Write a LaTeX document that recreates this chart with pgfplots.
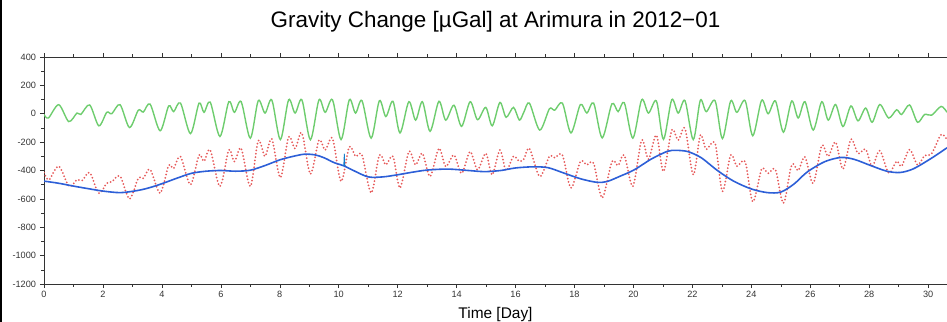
\documentclass[border=0pt]{standalone}
\usepackage{pgfplots}
\pgfplotsset{compat=1.18}
\usepackage{fontspec}
\setmainfont{Liberation Sans}
\usetikzlibrary{calc}
\definecolor{tidegreen}{RGB}{110,205,110}
\definecolor{obsred}{RGB}{230,90,90}
\definecolor{resblue}{RGB}{45,95,215}
\begin{document}
\begin{tikzpicture}
\begin{axis}[
  scale only axis, width=903bp, height=227bp,
  xmin=0, xmax=30.64, ymin=-1200, ymax=400,
  axis x line=box, axis y line=left,
  axis line style={-, line width=0.7bp, black!80},
  xtick={0,2,...,30}, ytick={-1200,-1000,...,400},
  minor x tick num=1, minor y tick num=1,
  tick align=outside,
  major tick length=4bp, minor tick length=2.5bp,
  tick style={line width=0.5bp, black!80},
  /pgf/number format/assume math mode=true,
  /pgf/number format/1000 sep={},
  ticklabel style={font=\fontsize{9.2}{10}\selectfont, text=black!80},
  yticklabel style={xshift=-0.5bp},
  xlabel={Time [Day]},
  xlabel style={at={(0.5,0)}, anchor=base, yshift=-34bp, inner sep=0pt, font=\fontsize{15.5}{17}\selectfont},
  title={Gravity Change [µGal] at Arimura in 2012−01},
  title style={at={(0.5,1)}, anchor=base, yshift=24bp, inner sep=0pt, font=\fontsize{22.5}{25}\selectfont},
  clip=true,
]
% green: theoretical tide
\addplot[tidegreen, line width=1.4bp, smooth] coordinates {
(0.00,-5)(0.15,-30)(0.50,64)(0.84,-55)(1.12,5)(1.25,-5)(1.55,62)(1.86,-85)
(2.13,10)(2.30,0)(2.58,64)(2.90,-97)(3.20,25)(3.37,12)(3.60,68)(3.94,-120)
(4.23,55)(4.40,15)(4.63,76)(4.97,-140)(5.26,75)(5.43,10)(5.64,82)(5.97,-160)
(6.27,85)(6.46,10)(6.69,85)(7.00,-172)(7.27,92)(7.50,5)(7.73,97)(8.02,-182)
(8.30,98)(8.52,5)(8.75,98)(9.04,-183)(9.33,98)(9.54,10)(9.79,98)(10.08,-182)
(10.36,98)(10.57,5)(10.79,92)(11.10,-172)(11.38,92)(11.60,-20)(11.84,88)(12.08,-135)
(12.38,85)(12.61,-45)(12.84,85)(13.10,-124)(13.40,88)(13.63,-45)(13.91,60)(14.17,-89)
(14.46,85)(14.71,-42)(14.99,45)(15.21,-85)(15.47,80)(15.68,-25)(15.93,45)(16.13,-45)
(16.28,10)(16.47,75)(16.82,-115)(17.15,35)(17.33,25)(17.59,75)(17.88,-135)
(18.20,65)(18.42,5)(18.65,75)(18.94,-170)(19.27,70)(19.48,15)(19.69,78)(19.98,-172)
(20.28,99)(20.51,5)(20.78,90)(21.02,-180)(21.30,99)(21.52,5)(21.75,92)(22.03,-182)
(22.27,95)(22.47,15)(22.77,92)(23.02,-175)(23.30,90)(23.51,10)(23.79,92)(24.05,-155)
(24.35,95)(24.57,0)(24.82,90)(25.09,-130)(25.37,90)(25.59,-30)(25.82,85)(26.10,-115)
(26.39,85)(26.61,-45)(26.86,65)(27.11,-90)(27.38,55)(27.62,-50)(27.88,40)(28.10,-60)
(28.36,65)(28.66,-30)(28.93,28)(29.10,-5)(29.37,62)(29.64,-60)(29.88,-5)(30.12,-10)
(30.44,52)(30.64,10)
};
% red: observed (dotted)
\addplot[obsred, line width=2.0bp, line cap=round, dash pattern=on 0bp off 3.4bp, smooth] coordinates {
(0.00,-415)(0.17,-465)(0.50,-370)(0.85,-510)(1.12,-465)(1.30,-470)(1.55,-415)(1.86,-560)
(2.13,-490)(2.30,-480)(2.58,-440)(2.90,-600)(3.20,-455)(3.37,-455)(3.60,-392)(3.94,-560)
(4.23,-365)(4.40,-385)(4.63,-302)(4.97,-500)(5.26,-291)(5.43,-335)(5.64,-256)(5.97,-512)
(6.27,-256)(6.46,-337)(6.69,-244)(7.00,-512)(7.27,-190)(7.50,-300)(7.73,-178)(8.02,-450)
(8.30,-165)(8.52,-245)(8.75,-135)(9.04,-425)(9.33,-186)(9.54,-256)(9.79,-174)(10.08,-477)
(10.36,-233)(10.57,-300)(10.79,-291)(11.10,-558)(11.38,-291)(11.60,-360)(11.84,-300)(12.08,-523)
(12.38,-267)(12.61,-360)(12.84,-279)(13.10,-442)(13.40,-244)(13.63,-372)(13.91,-291)(14.17,-420)
(14.46,-267)(14.71,-395)(14.99,-279)(15.21,-430)(15.47,-256)(15.68,-400)(15.93,-300)(16.13,-335)
(16.28,-320)(16.47,-244)(16.82,-442)(17.15,-300)(17.33,-310)(17.59,-291)(17.88,-523)
(18.20,-337)(18.42,-360)(18.65,-349)(18.94,-593)(19.27,-337)(19.48,-365)(19.69,-291)(19.98,-512)
(20.28,-186)(20.51,-320)(20.78,-151)(21.02,-407)(21.30,-116)(21.52,-186)(21.75,-105)(22.03,-430)
(22.27,-151)(22.47,-250)(22.77,-209)(23.02,-547)(23.30,-291)(23.51,-370)(23.79,-337)(24.05,-620)
(24.35,-390)(24.57,-420)(24.82,-395)(25.09,-630)(25.37,-360)(25.59,-400)(25.82,-305)(26.10,-490)
(26.39,-225)(26.61,-300)(26.86,-200)(27.11,-390)(27.38,-180)(27.62,-280)(27.88,-250)(28.10,-370)
(28.36,-260)(28.66,-417)(28.93,-335)(29.10,-370)(29.37,-253)(29.64,-360)(29.88,-295)(30.12,-280)
(30.44,-147)(30.64,-183)
};
% blue: corrected / drift
\addplot[resblue, line width=1.6bp, smooth] coordinates {
(0,-475)(0.5,-490)(1.0,-510)(1.5,-528)(2.0,-545)(2.6,-556)(3.2,-540)(3.6,-520)
(4.0,-493)(4.5,-455)(5.0,-420)(5.5,-405)(6.0,-400)(6.5,-405)(7.0,-398)(7.5,-365)
(8.0,-325)(8.5,-298)(8.85,-285)(9.2,-290)(9.5,-310)(9.85,-345)(10.17,-367)(10.5,-400)
(11.0,-445)(11.5,-445)(12.0,-430)(12.5,-412)(13.0,-397)(13.7,-390)(14.4,-400)(14.95,-408)
(15.5,-400)(16.0,-382)(16.6,-374)(17.1,-380)(17.6,-415)(18.2,-458)(18.75,-483)(19.1,-478)
(19.55,-440)(20.03,-395)(20.6,-320)(21.15,-265)(21.45,-258)(21.85,-267)(22.3,-310)(22.85,-400)
(23.4,-475)(24.0,-530)(24.55,-556)(25.0,-552)(25.45,-495)(25.9,-410)(26.5,-337)(27.05,-308)
(27.5,-322)(28.05,-365)(28.6,-405)(29.05,-414)(29.5,-388)(30.1,-315)(30.64,-240)
};
\addplot[cyan!60!blue, line width=0.8bp] coordinates {(10.17,-367)(10.19,-282)(10.21,-367)};
\end{axis}
\coordinate (bl) at ($(current axis.south west)+(-44bp,-38bp)$);
\coordinate (tr) at ($(current axis.north east)+(0bp,57bp)$);
\pgfresetboundingbox
\path[use as bounding box] (bl) rectangle (tr);
\fill[black] (bl) rectangle ($(bl)+(1.6bp,322bp)$);
\end{tikzpicture}
\end{document}
